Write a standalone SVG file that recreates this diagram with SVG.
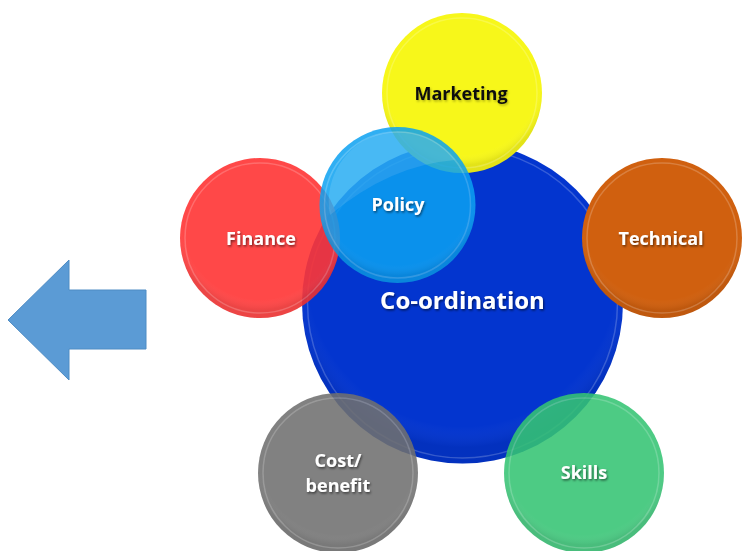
<svg xmlns="http://www.w3.org/2000/svg" width="747" height="551" viewBox="0 0 747 551">
<defs>
<filter id="ts" x="-20%" y="-40%" width="140%" height="180%">
<feDropShadow dx="1" dy="1.5" stdDeviation="1" flood-color="#000" flood-opacity="0.55"/>
</filter>
<filter id="tsm" x="-20%" y="-40%" width="140%" height="180%">
<feDropShadow dx="1" dy="1.5" stdDeviation="1" flood-color="#000" flood-opacity="0.3"/>
</filter>
<radialGradient id="shade" cx="50%" cy="40%" r="55%">
<stop offset="0.88" stop-color="#fff" stop-opacity="0"/>
<stop offset="1" stop-color="#000" stop-opacity="0.08"/>
</radialGradient>
</defs>
<style>
.lbl{font-family:"Open Sans","Liberation Sans",sans-serif;font-weight:bold;text-anchor:middle;fill:#fff;filter:url(#ts)}
.dark{fill:#111;filter:url(#tsm)}
.rim{fill:none;stroke:#fff;stroke-opacity:0.2;stroke-width:1.5}
.edge{fill:url(#shade)}
</style>
<rect width="747" height="551" fill="#fff"/>

<g id="arrow">
<polygon points="8,320 69,260 69,290 146,290 146,349 69,349 69,380" fill="#5B9BD5" stroke="#4f8cc4" stroke-width="1"/>
</g>

<g id="coordination">
<circle cx="462.5" cy="303" r="160.5" fill="#0335CF"/>
<circle cx="462.5" cy="303" r="160.5" class="edge"/>
<circle cx="462.5" cy="303" r="155" class="rim" stroke-opacity="0.12"/>
<text class="lbl" x="462.5" y="309" font-size="24">Co-ordination</text>
</g>

<g id="marketing">
<circle cx="462" cy="93" r="80" fill="#F7F71A"/>
<circle cx="462" cy="93" r="80" class="edge"/>
<circle cx="462" cy="93" r="75" class="rim" stroke-opacity="0.3"/>
<text class="lbl dark" x="461" y="100" font-size="18">Marketing</text>
</g>

<g id="technical">
<circle cx="662" cy="238" r="80" fill="#D0600F"/>
<circle cx="662" cy="238" r="80" class="edge"/>
<circle cx="662" cy="238" r="75" class="rim"/>
<text class="lbl" x="661" y="245" font-size="18">Technical</text>
</g>

<g id="finance" opacity="0.9">
<circle cx="260" cy="238" r="80" fill="#FF3535"/>
<circle cx="260" cy="238" r="80" class="edge"/>
<circle cx="260" cy="238" r="75" class="rim"/>
</g>
<text class="lbl" x="261" y="245" font-size="18">Finance</text>

<g id="costbenefit">
<g opacity="0.88">
<circle cx="338" cy="473" r="80" fill="#707070"/>
<circle cx="338" cy="473" r="80" class="edge"/>
<circle cx="338" cy="473" r="75" class="rim"/>
</g>
<text class="lbl" x="338" y="467" font-size="18">Cost/</text>
<text class="lbl" x="338" y="492" font-size="18">benefit</text>
</g>

<g id="skills">
<g opacity="0.88">
<circle cx="584" cy="473" r="80" fill="#35C474"/>
<circle cx="584" cy="473" r="80" class="edge"/>
<circle cx="584" cy="473" r="75" class="rim"/>
</g>
<text class="lbl" x="584" y="479" font-size="18">Skills</text>
</g>

<g id="policy">
<g opacity="0.85">
<circle cx="397.5" cy="205" r="78" fill="#0CA2F2"/>
<circle cx="397.5" cy="205" r="78" class="edge"/>
<circle cx="397.5" cy="205" r="73" class="rim" stroke-opacity="0.35"/>
<path d="M 330 215 A 70 70 0 0 1 455 160 Q 390 165 330 215 Z" fill="#fff" opacity="0.12"/>
</g>
<text class="lbl" x="398" y="211" font-size="18">Policy</text>
</g>
</svg>
